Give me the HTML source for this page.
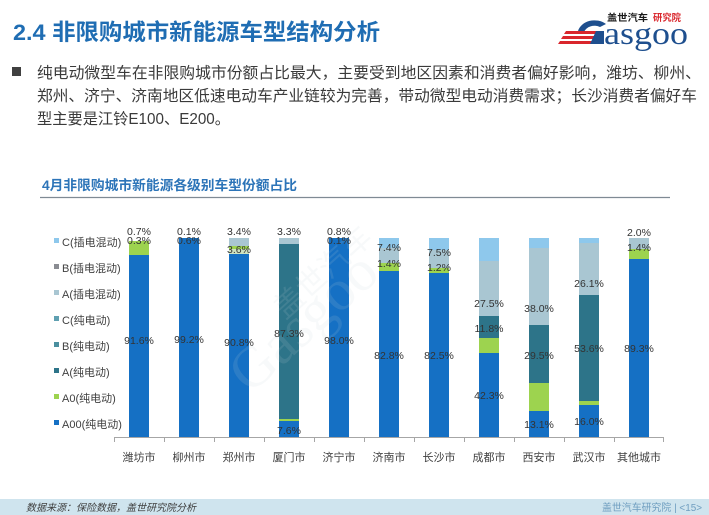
<!DOCTYPE html>
<html><head><meta charset="utf-8">
<style>
html,body{margin:0;padding:0;background:#fff;}
body{width:709px;height:515px;overflow:hidden;position:relative;font-family:"Liberation Sans","Noto Sans CJK SC",sans-serif;}
svg{position:absolute;left:0;top:0;}
</style></head>
<body>
<svg width="709" height="515" viewBox="0 0 709 515" xmlns="http://www.w3.org/2000/svg">
<rect x="0" y="0" width="709" height="515" fill="#ffffff"/>

<!-- Header title -->
<text x="13" y="40" font-family="Liberation Sans, Noto Sans CJK SC, sans-serif" font-size="22.5" font-weight="bold" fill="#1f6db3" textLength="367" lengthAdjust="spacingAndGlyphs">2.4 非限购城市新能源车型结构分析</text>

<!-- Logo -->
<g>
  <path d="M578 31 A17 14 0 0 1 606 24 L600 27 A11 9 0 0 0 584 32 Z" fill="#1e4f8e"/>
  <polygon points="566,31 598,31 596,34 564,34" fill="#d9262c"/>
  <polygon points="563,36 596,36 594,39 561,39" fill="#d9262c"/>
  <polygon points="560,41 594,41 592,44 558,44" fill="#d9262c"/>
  <path d="M596 31 L604 31 L604 44 L590 44 Z" fill="#1e4f8e"/>
  <text x="604" y="44" font-family="Liberation Serif, serif" font-size="32" fill="#1e4f8e" textLength="84" lengthAdjust="spacingAndGlyphs">asgoo</text>
  <text x="607" y="21" font-family="Liberation Sans, Noto Sans CJK SC, sans-serif" font-size="9.5" font-weight="bold" fill="#1a1a1a" textLength="41" lengthAdjust="spacingAndGlyphs">盖世汽车</text>
  <text x="653" y="21" font-family="Liberation Sans, Noto Sans CJK SC, sans-serif" font-size="9.5" font-weight="bold" fill="#d9262c" textLength="28" lengthAdjust="spacingAndGlyphs">研究院</text>
</g>

<!-- Paragraph -->
<rect x="12" y="67" width="9" height="9" fill="#404040"/>
<g font-family="Liberation Sans, Noto Sans CJK SC, sans-serif" font-size="15.5" fill="#3a3a3a">
  <text x="37" y="78" textLength="664" lengthAdjust="spacingAndGlyphs">纯电动微型车在非限购城市份额占比最大，主要受到地区因素和消费者偏好影响，潍坊、柳州、</text>
  <text x="37" y="101" textLength="660" lengthAdjust="spacingAndGlyphs">郑州、济宁、济南地区低速电动车产业链较为完善，带动微型电动消费需求；长沙消费者偏好车</text>
  <text x="37" y="124" textLength="193" lengthAdjust="spacingAndGlyphs">型主要是江铃E100、E200。</text>
</g>

<!-- Chart title -->
<text x="42" y="190" font-family="Liberation Sans, Noto Sans CJK SC, sans-serif" font-size="13.5" font-weight="bold" fill="#2c74b8" textLength="255" lengthAdjust="spacingAndGlyphs">4月非限购城市新能源各级别车型份额占比</text>
<line x1="40" y1="197.5" x2="670" y2="197.5" stroke="#7f8a94" stroke-width="1.2"/>

<!-- Legend -->
<g font-family="Liberation Sans, Noto Sans CJK SC, sans-serif" font-size="11" fill="#404040">
  <rect x="54" y="238" width="5" height="5" fill="#8ec8ec"/><text x="62" y="246">C(插电混动)</text>
  <rect x="54" y="264" width="5" height="5" fill="#8a8c92"/><text x="62" y="272">B(插电混动)</text>
  <rect x="54" y="290" width="5" height="5" fill="#a9c6d2"/><text x="62" y="298">A(插电混动)</text>
  <rect x="54" y="316" width="5" height="5" fill="#5fa0b1"/><text x="62" y="324">C(纯电动)</text>
  <rect x="54" y="342" width="5" height="5" fill="#4a8f9f"/><text x="62" y="350">B(纯电动)</text>
  <rect x="54" y="368" width="5" height="5" fill="#2d7489"/><text x="62" y="376">A(纯电动)</text>
  <rect x="54" y="394" width="5" height="5" fill="#9dd34f"/><text x="62" y="402">A0(纯电动)</text>
  <rect x="54" y="420" width="5" height="5" fill="#1570c4"/><text x="62" y="428">A00(纯电动)</text>
</g>

<!-- Bars -->
<g>
  <rect x="129" y="241" width="20" height="14" fill="#9dd34f"/>
  <rect x="129" y="255" width="20" height="182" fill="#1570c4"/>
  <rect x="179" y="238" width="20" height="199" fill="#1570c4"/>
  <rect x="229" y="238" width="20" height="8" fill="#a9c6d2"/>
  <rect x="229" y="246" width="20" height="3" fill="#9dd34f"/>
  <rect x="229" y="249" width="20" height="5" fill="#cfe3c0"/>
  <rect x="229" y="254" width="20" height="183" fill="#1570c4"/>
  <rect x="279" y="238" width="20" height="6" fill="#a9c6d2"/>
  <rect x="279" y="244" width="20" height="175" fill="#2d7489"/>
  <rect x="279" y="419" width="20" height="2" fill="#9dd34f"/>
  <rect x="279" y="421" width="20" height="16" fill="#1570c4"/>
  <rect x="329" y="238" width="20" height="199" fill="#1570c4"/>
  <rect x="379" y="238" width="20" height="10" fill="#8ec8ec"/>
  <rect x="379" y="248" width="20" height="15" fill="#a9c6d2"/>
  <rect x="379" y="263" width="20" height="8" fill="#9dd34f"/>
  <rect x="379" y="271" width="20" height="166" fill="#1570c4"/>
  <rect x="429" y="238" width="20" height="12" fill="#8ec8ec"/>
  <rect x="429" y="250" width="20" height="18" fill="#a9c6d2"/>
  <rect x="429" y="268" width="20" height="5" fill="#9dd34f"/>
  <rect x="429" y="273" width="20" height="164" fill="#1570c4"/>
  <rect x="479" y="238" width="20" height="23" fill="#8ec8ec"/>
  <rect x="479" y="261" width="20" height="55" fill="#a9c6d2"/>
  <rect x="479" y="316" width="20" height="22" fill="#2d7489"/>
  <rect x="479" y="338" width="20" height="15" fill="#9dd34f"/>
  <rect x="479" y="353" width="20" height="84" fill="#1570c4"/>
  <rect x="529" y="238" width="20" height="10" fill="#8ec8ec"/>
  <rect x="529" y="248" width="20" height="77" fill="#a9c6d2"/>
  <rect x="529" y="325" width="20" height="58" fill="#2d7489"/>
  <rect x="529" y="383" width="20" height="28" fill="#9dd34f"/>
  <rect x="529" y="411" width="20" height="26" fill="#1570c4"/>
  <rect x="579" y="238" width="20" height="5" fill="#8ec8ec"/>
  <rect x="579" y="243" width="20" height="52" fill="#a9c6d2"/>
  <rect x="579" y="295" width="20" height="106" fill="#2d7489"/>
  <rect x="579" y="401" width="20" height="4" fill="#9dd34f"/>
  <rect x="579" y="405" width="20" height="32" fill="#1570c4"/>
  <rect x="629" y="238" width="20" height="11" fill="#a9c6d2"/>
  <rect x="629" y="249" width="20" height="10" fill="#9dd34f"/>
  <rect x="629" y="259" width="20" height="178" fill="#1570c4"/>
</g>

<!-- Watermark -->
<g opacity="0.13" font-family="Liberation Serif, Noto Sans CJK SC, serif" fill="#c9d3da">
  <text x="0" y="0" font-size="58" transform="translate(250,395) rotate(-42)">Gasgoo</text>
  <text x="0" y="0" font-size="30" transform="translate(285,320) rotate(-42)">盖世汽车</text>
</g>

<!-- Axis -->
<g stroke="#a6a6a6" stroke-width="1">
  <line x1="114" y1="437.5" x2="664" y2="437.5"/>
  <line x1="114.5" y1="437" x2="114.5" y2="442"/>
  <line x1="164.5" y1="437" x2="164.5" y2="442"/>
  <line x1="214.5" y1="437" x2="214.5" y2="442"/>
  <line x1="264.5" y1="437" x2="264.5" y2="442"/>
  <line x1="314.5" y1="437" x2="314.5" y2="442"/>
  <line x1="364.5" y1="437" x2="364.5" y2="442"/>
  <line x1="414.5" y1="437" x2="414.5" y2="442"/>
  <line x1="464.5" y1="437" x2="464.5" y2="442"/>
  <line x1="514.5" y1="437" x2="514.5" y2="442"/>
  <line x1="564.5" y1="437" x2="564.5" y2="442"/>
  <line x1="614.5" y1="437" x2="614.5" y2="442"/>
  <line x1="663.5" y1="437" x2="663.5" y2="442"/>
</g>

<!-- City labels -->
<g font-family="Liberation Sans, Noto Sans CJK SC, sans-serif" font-size="11" fill="#404040" text-anchor="middle">
  <text x="139" y="461">潍坊市</text>
  <text x="189" y="461">柳州市</text>
  <text x="239" y="461">郑州市</text>
  <text x="289" y="461">厦门市</text>
  <text x="339" y="461">济宁市</text>
  <text x="389" y="461">济南市</text>
  <text x="439" y="461">长沙市</text>
  <text x="489" y="461">成都市</text>
  <text x="539" y="461">西安市</text>
  <text x="589" y="461">武汉市</text>
  <text x="639" y="461">其他城市</text>
</g>

<!-- Data labels -->
<g font-family="Liberation Sans, sans-serif" font-size="10.5" fill="#333" text-anchor="middle">
  <text x="139" y="235">0.7%</text><text x="139" y="244">0.3%</text><text x="139" y="344">91.6%</text>
  <text x="189" y="235">0.1%</text><text x="189" y="244">0.6%</text><text x="189" y="343">99.2%</text>
  <text x="239" y="235">3.4%</text><text x="239" y="253">3.6%</text><text x="239" y="346">90.8%</text>
  <text x="289" y="235">3.3%</text><text x="289" y="337">87.3%</text><text x="289" y="434">7.6%</text>
  <text x="339" y="235">0.8%</text><text x="339" y="244">0.1%</text><text x="339" y="344">98.0%</text>
  <text x="389" y="251">7.4%</text><text x="389" y="267">1.4%</text><text x="389" y="359">82.8%</text>
  <text x="439" y="256">7.5%</text><text x="439" y="271">1.2%</text><text x="439" y="359">82.5%</text>
  <text x="489" y="307">27.5%</text><text x="489" y="332">11.8%</text><text x="489" y="399">42.3%</text>
  <text x="539" y="312">38.0%</text><text x="539" y="359">29.5%</text><text x="539" y="428">13.1%</text>
  <text x="589" y="287">26.1%</text><text x="589" y="352">53.6%</text><text x="589" y="425">16.0%</text>
  <text x="639" y="236">2.0%</text><text x="639" y="251">1.4%</text><text x="639" y="352">89.3%</text>
</g>

<!-- Footer -->
<rect x="0" y="499" width="709" height="16" fill="#cfe4ee"/>
<text x="26" y="511" font-family="Liberation Sans, Noto Sans CJK SC, sans-serif" font-size="10" font-style="italic" fill="#404040" textLength="170" lengthAdjust="spacingAndGlyphs">数据来源：保险数据，盖世研究院分析</text>
<text x="602" y="511" font-family="Liberation Sans, Noto Sans CJK SC, sans-serif" font-size="10" fill="#6f9ec0" textLength="100" lengthAdjust="spacingAndGlyphs">盖世汽车研究院 | &lt;15&gt;</text>
</svg>
</body></html>
